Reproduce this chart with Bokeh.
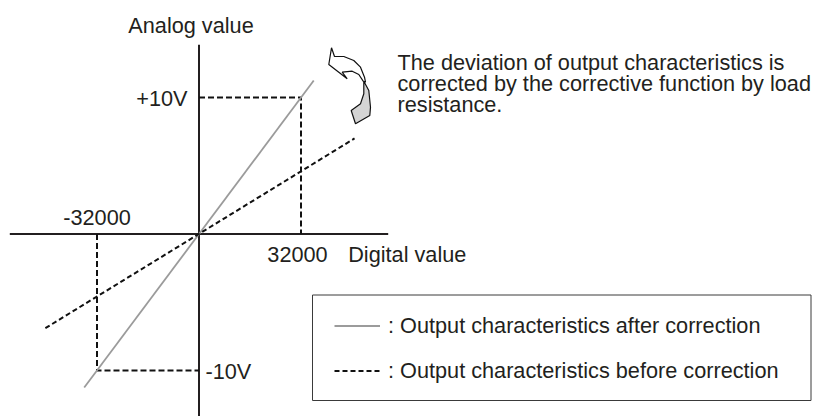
from bokeh.plotting import figure
from bokeh.models import Range1d, Legend, LegendItem
from bokeh.core.properties import value
from bokeh.embed import file_html
from bokeh.resources import INLINE

# ---------------- data ----------------
digital_ticks = [-32000, 32000]
digital_tick_labels = ["-32000", "32000"]
analog_ticks = [-10, 10]
analog_tick_labels = ["-10V", "+10V"]

after_x = [-36000, 36000]        # output characteristics after correction
after_y = [-11.25, 11.25]
before_x = [-48200, 48800]       # output characteristics before correction
before_y = [-6.9, 7.0]

x_title = "Digital value"
y_title = "Analog value"
note_lines = [
    "The deviation of output characteristics is",
    "corrected by the corrective function by load",
    "resistance.",
]
legend_labels = [
    ": Output characteristics after correction",
    ": Output characteristics before correction",
]

# ---------------- layout ----------------
W, H = 813, 416
OX, OY = 198.5, 233.5      # origin in pixels
SX = 32000 / 102.0         # digital units per pixel
SY = 10 / 136.5            # volts per pixel


def wx(px):
    return (px - OX) * SX


def wy(py):
    return (OY - py) * SY


FONT_NAME = "Liberation Sans"
FONT = value(FONT_NAME)
FS = "21.7px"
TXT = "#231F20"
TEXT_KW = dict(text_font=FONT, text_font_size=FS, text_color=TXT, text_baseline="middle")

p = figure(width=W, height=H, output_backend="svg", toolbar_location=None,
           x_axis_location=None, y_axis_location=None,
           x_range=Range1d(wx(0), wx(W)), y_range=Range1d(wy(H), wy(0)),
           min_border=0)
p.grid.visible = False
p.outline_line_color = None
p.background_fill_color = "white"
p.border_fill_color = "white"

# axes lines
ax_x = wx(387.7)
ax_y = wy(44.3)
p.segment(x0=[-ax_x, 0], y0=[0, -ax_y], x1=[ax_x, 0], y1=[0, ax_y],
          line_color=TXT, line_width=2)

# dashed guides to the +-10V / +-32000 points
gx = [[0, digital_ticks[1], digital_ticks[1]], [digital_ticks[0], digital_ticks[0], 0]]
gy = [[analog_ticks[1], analog_ticks[1], 0], [0, analog_ticks[0], analog_ticks[0]]]
p.multi_line(xs=gx, ys=gy, line_color="#111111", line_width=2, line_dash="6 3")

# characteristic lines
r_after = p.line(after_x, after_y, line_color="#9b9b9b", line_width=1.8)
r_before = p.line(before_x, before_y, line_color="#111111", line_width=2,
                  line_dash="5 3")

# tick labels
p.text(x=[digital_ticks[0]], y=[0], text=[digital_tick_labels[0]],
       text_align="center", y_offset=-16.5, **TEXT_KW)
p.text(x=[digital_ticks[1]], y=[0], text=[digital_tick_labels[1]],
       text_align="center", x_offset=-3.5, y_offset=20, **TEXT_KW)
p.text(x=[0], y=[analog_ticks[1]], text=[analog_tick_labels[1]],
       text_align="right", x_offset=-11.5, y_offset=1, **TEXT_KW)
p.text(x=[0], y=[analog_ticks[0]], text=[analog_tick_labels[0]],
       text_align="left", x_offset=6.5, y_offset=1, **TEXT_KW)

# axis titles
p.text(x=[wx(347.7)], y=[0], text=[x_title], text_align="left", y_offset=20, **TEXT_KW)
p.text(x=[wx(190.5)], y=[wy(24.5)], text=[y_title], text_align="center", **TEXT_KW)

# note text
pitch = 21
p.text(x=[wx(397)] * len(note_lines),
       y=[wy(62.3 + i * pitch) for i in range(len(note_lines))],
       text=note_lines, text_align="left", **TEXT_KW)

# curved arrow decoration (pixel outline)
front = [(331.0, 47.3), (334.0, 56.0), (343.3, 56.0), (353.3, 60.0), (360.0, 66.7),
         (364.0, 76.7), (365.0, 81.7), (362.7, 80.7), (358.3, 74.0), (351.7, 70.7),
         (341.7, 71.7), (346.7, 78.3), (328.3, 64.0)]
back = [(363.3, 80.7), (368.3, 90.0), (370.0, 106.7), (369.3, 115.0), (355.0, 123.3),
        (350.7, 110.0), (360.0, 103.3), (363.3, 93.3)]
p.patch([wx(a) for a, b in front], [wy(b) for a, b in front],
        fill_color="white", line_color="#111111", line_width=1.2)
p.patch([wx(a) for a, b in back], [wy(b) for a, b in back],
        fill_color="#d4d4d4", line_color="#111111", line_width=1.2)

# legend frame
p.quad(left=[wx(312)], right=[wx(810.5)], top=[wy(294.5)], bottom=[wy(400)],
       fill_color="white", line_color="#3a3a3a", line_width=1)

# legend
legend = Legend(items=[LegendItem(label=legend_labels[0], renderers=[r_after]),
                       LegendItem(label=legend_labels[1], renderers=[r_before])],
                location=(334, 32.5), orientation="vertical",
                padding=0, spacing=19, margin=0,
                glyph_width=46, glyph_height=21, label_standoff=8,
                label_height=21,
                label_text_font=FONT_NAME, label_text_font_size=FS, label_text_color=TXT,
                border_line_color=None, background_fill_alpha=0.0)
p.add_layout(legend, "center")

open("out.html", "w").write(file_html(p, INLINE))
